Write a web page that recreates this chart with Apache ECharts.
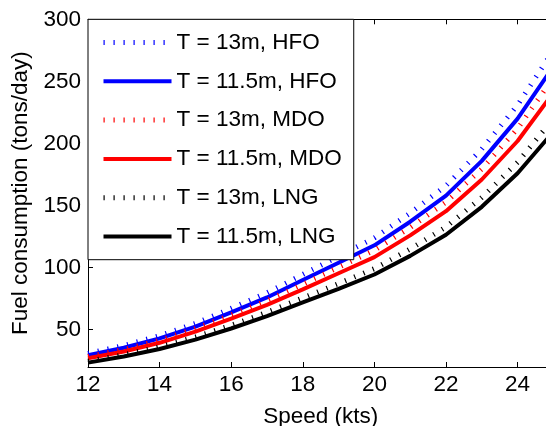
<!DOCTYPE html>
<html>
<head>
<meta charset="utf-8">
<script src="https://cdn.jsdelivr.net/npm/echarts@6/dist/echarts.min.js"></script>
<style>
  html, body { margin: 0; padding: 0; background: #fff; }
  #chart { width: 546px; height: 426px; }
</style>
</head>
<body>
<div id="chart"></div>
<script>
// Ship speed (kts)
const speeds = [12, 13, 14, 15, 16, 17, 18, 19, 20, 21, 22, 23, 24, 25];

// Daily fuel consumption (tons/day) at draught T = 13 m and T = 11.5 m
const hfo13  = [31.0, 37.3, 45.2, 55.1, 67.2, 79.8, 94.5, 109.2, 124.0, 144.0, 166.0, 195.5, 231.0, 275.0];
const hfo115 = [29.5, 35.5, 43.0, 52.5, 64.0, 76.0, 90.0, 104.0, 118.0, 137.0, 158.0, 186.0, 220.0, 262.0];
const mdo13  = [28.4, 34.1, 41.5, 50.9, 62.0, 73.5, 86.6, 100.3, 114.0, 132.3, 152.8, 179.5, 212.0, 253.0];
const mdo115 = [27.0, 32.5, 39.5, 48.5, 59.0, 70.0, 82.5, 95.5, 108.5, 126.0, 145.5, 171.0, 202.0, 241.0];
const lng13  = [24.7, 29.9, 36.2, 44.1, 53.6, 64.0, 75.6, 87.2, 99.2, 115.0, 132.8, 156.5, 184.8, 220.0];
const lng115 = [23.5, 28.5, 34.5, 42.0, 51.0, 61.0, 72.0, 83.0, 94.5, 109.5, 126.5, 149.0, 176.0, 209.5];

const xTickValues = [12, 14, 16, 18, 20, 22, 24];
const yTickValues = [50, 100, 150, 200, 250, 300];

const seriesNames = [
  'T = 13m, HFO', 'T = 11.5m, HFO',
  'T = 13m, MDO', 'T = 11.5m, MDO',
  'T = 13m, LNG', 'T = 11.5m, LNG'
];
const seriesValues = [hfo13, hfo115, mdo13, mdo115, lng13, lng115];
const seriesColors = ['#0000ff', '#0000ff', '#ff0000', '#ff0000', '#000000', '#000000'];
const seriesDotted = [true, false, true, false, true, false];

const FONT = "'Liberation Sans', Arial, Helvetica, sans-serif";
const FS = 22.5;
const DOT_PATTERN = [1.2, 8.8];

const chart = echarts.init(document.getElementById('chart'), null, { renderer: 'canvas' });

const series = seriesNames.map((name, i) => ({
  name: name,
  type: 'line',
  data: speeds.map((s, k) => [s, seriesValues[i][k]]),
  symbol: 'none',
  smooth: false,
  animation: false,
  color: seriesColors[i],
  lineStyle: seriesDotted[i]
    ? { color: seriesColors[i], width: 5, type: DOT_PATTERN, cap: 'butt' }
    : { color: seriesColors[i], width: 4, type: 'solid' },
  z: 2 + i
}));

// Legend entries show only the line sample (no marker)
const legendData = seriesNames.map((name, i) => ({
  name: name,
  itemStyle: { color: 'rgba(0,0,0,0)', borderWidth: 0, opacity: 0 },
  lineStyle: seriesDotted[i]
    ? { color: seriesColors[i], width: 5, type: DOT_PATTERN, cap: 'butt', opacity: 1 }
    : { color: seriesColors[i], width: 4, type: 'solid', opacity: 1 }
}));

const option = {
  backgroundColor: '#ffffff',
  animation: false,
  textStyle: { fontFamily: FONT },
  grid: { left: 88, top: 19.3, right: -7.4, bottom: 59, containLabel: false, outerBoundsMode: 'none' },
  legend: {
    orient: 'vertical',
    left: 88,
    top: 19.3,
    data: legendData,
    itemWidth: 68,
    itemHeight: 14,
    itemGap: 15.8,
    padding: [11.7, 12, 11.7, 13],
    backgroundColor: '#ffffff',
    borderColor: '#000000',
    borderWidth: 1,
    borderRadius: 0,
    selectedMode: false,
    z: 20,
    textStyle: { fontFamily: FONT, fontSize: FS, color: '#000', lineHeight: 20 }
  },
  xAxis: [
    {
      type: 'value',
      min: 12,
      max: 25,
      interval: 1,
      position: 'bottom',
      name: 'Speed (kts)',
      nameLocation: 'middle',
      nameGap: 38,
      nameTextStyle: { fontFamily: FONT, fontSize: FS, color: '#000' },
      axisLine: { show: true, lineStyle: { color: '#000', width: 1 } },
      axisTick: { show: true, inside: true, length: 5, customValues: xTickValues, lineStyle: { color: '#000' } },
      axisLabel: { fontFamily: FONT, fontSize: FS, color: '#000', margin: 6, customValues: xTickValues },
      splitLine: { show: false }
    },
    {
      type: 'value',
      min: 12,
      max: 25,
      interval: 1,
      position: 'top',
      axisLine: { show: true, lineStyle: { color: '#000', width: 1 } },
      axisTick: { show: true, inside: true, length: 5, customValues: xTickValues, lineStyle: { color: '#000' } },
      axisLabel: { show: false },
      splitLine: { show: false }
    }
  ],
  yAxis: {
    type: 'value',
    min: 20,
    max: 300,
    name: 'Fuel consumption (tons/day)',
    nameLocation: 'middle',
    nameGap: 55,
    nameTextStyle: { fontFamily: FONT, fontSize: FS, color: '#000' },
    axisLine: { show: true, lineStyle: { color: '#000', width: 1 } },
    axisTick: { show: true, inside: true, length: 5, customValues: yTickValues, lineStyle: { color: '#000' } },
    axisLabel: { fontFamily: FONT, fontSize: FS, color: '#000', margin: 7, customValues: yTickValues },
    splitLine: { show: false }
  },
  series: series
};

chart.setOption(option);
</script>
</body>
</html>
